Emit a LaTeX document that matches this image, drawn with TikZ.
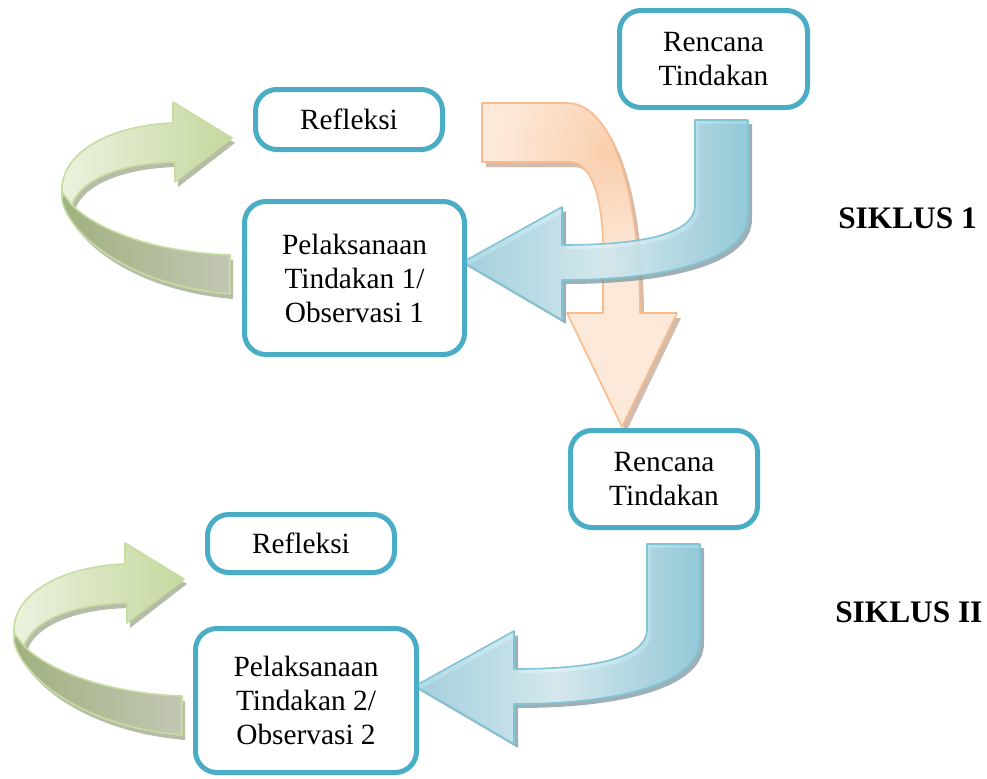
\documentclass[tikz,border=0pt]{standalone}
\usepackage{fontspec}
\setmainfont{Liberation Serif}

\definecolor{kotakbiru}{RGB}{75,172,198}
\definecolor{birutua}{RGB}{147,205,221}
\definecolor{birumuda}{RGB}{220,239,244}
\definecolor{birugaris}{RGB}{128,196,214}
\definecolor{bayangbiru}{RGB}{125,150,158}
\definecolor{oranyemuda}{RGB}{253,233,218}
\definecolor{oranyetua}{RGB}{249,206,172}
\definecolor{oranyegaris}{RGB}{249,186,140}
\definecolor{bayangoranye}{RGB}{190,160,140}
\definecolor{hijaumuda}{RGB}{236,242,223}
\definecolor{hijautua}{RGB}{197,216,160}
\definecolor{hijausisi}{RGB}{160,177,128}
\definecolor{hijauabu}{RGB}{194,199,179}
\definecolor{hijaugaris}{RGB}{200,220,160}
\definecolor{bayanghijau}{RGB}{150,160,130}

% block arrow outlines (pixel units)
\newcommand{\panahbiru}{(695,120) -- (748,120) -- (748,215) .. controls (748,262) and (660,280) .. (562,280) -- (562,320) -- (463,262) -- (562,207) -- (562,245) .. controls (650,245) and (695,232) .. (695,205) -- cycle}
\newcommand{\panahoranye}{(482,103) -- (567,103) .. controls (615,103) and (640,200) .. (640,313) -- (677,313) -- (622,427) -- (567,313) -- (603,313) -- (603,250) .. controls (603,200) and (592,162) .. (570,162) -- (482,162) -- cycle}
\newcommand{\loopatas}{(62,192) .. controls (60,150) and (115,125) .. (173,123) -- (173,102) -- (232,138) -- (175,182) -- (175,162) .. controls (120,163) and (80,180) .. (72,205) -- cycle}
\newcommand{\loopbawah}{(62,192) -- (62,200) .. controls (68,232) and (125,285) .. (230,294) -- (230,255) .. controls (150,252) and (95,228) .. (72,205) -- cycle}

\begin{document}
\begin{tikzpicture}[x=0.75pt,y=-0.75pt,
    kotak/.style={draw=kotakbiru, line width=3.75pt, rounded corners=16pt, fill=white,
        align=center, inner sep=0pt, font=\fontsize{22}{25.5}\selectfont},
    siklus/.style={font=\fontsize{23.5}{28}\selectfont\bfseries, inner sep=0pt},
    garispanah/.style={line width=1.2pt, line join=round}]

    \useasboundingbox (0,0) rectangle (987,778);

    % Draw the green loop arrows of both cycles (shadow, lower band, upper band)
    \foreach \dx/\dy in {0/0, -48/441} {
        \begin{scope}[shift={(\dx,\dy)}]
            \fill[bayanghijau, opacity=0.7, shift={(3,5)}] \loopbawah;
            \fill[bayanghijau, opacity=0.7, shift={(3,5)}] \loopatas;
            \draw[garispanah, draw=hijaugaris, left color=hijausisi, right color=hijauabu] \loopbawah;
            \draw[garispanah, draw=hijaugaris, left color=hijaumuda, right color=hijautua] \loopatas;
        \end{scope}
    }

    % Orange arrow from the first cycle down to the second
    \fill[bayangoranye, opacity=0.7, shift={(4,5)}] \panahoranye;
    \begin{scope}
        \clip \panahoranye;
        \fill[oranyemuda] (470,95) rectangle (690,435);
        \shade[inner color=oranyetua, outer color=oranyemuda] (612,150) circle (115);
    \end{scope}
    \draw[garispanah, draw=oranyegaris] \panahoranye;

    % Blue bent arrows, drawn over the orange one
    \foreach \dx/\dy in {0/0, -48/424} {
        \begin{scope}[shift={(\dx,\dy)}]
            \fill[bayangbiru, opacity=0.75, shift={(4,4)}] \panahbiru;
            \draw[garispanah, draw=birugaris, fill opacity=0.88, left color=birutua!85, right color=birutua, middle color=birumuda] \panahbiru;
        \end{scope}
    }

    % Boxes of cycle 1
    \node[kotak, minimum width=141pt, minimum height=72.75pt] (rencana1) at (713.5,59) {Rencana\\Tindakan};
    \node[kotak, minimum width=140.25pt, minimum height=45pt] (refleksi1) at (349,119.5) {Refleksi};
    \node[kotak, minimum width=165pt, minimum height=114.75pt] (pelaksanaan1) at (354.5,278) {Pelaksanaan\\Tindakan 1/\\Observasi 1};

    % Boxes of cycle 2
    \node[kotak, minimum width=140.25pt, minimum height=72.75pt] (rencana2) at (664,479) {Rencana\\Tindakan};
    \node[kotak, minimum width=140.25pt, minimum height=43.5pt] (refleksi2) at (301,543.5) {Refleksi};
    \node[kotak, minimum width=165.75pt, minimum height=108pt] (pelaksanaan2) at (306,700.5) {Pelaksanaan\\Tindakan 2/\\Observasi 2};

    % Cycle labels
    \node[siklus, anchor=base west] (siklus1) at (838,228) {SIKLUS 1};
    \node[siklus, anchor=base west] (siklus2) at (835,622) {SIKLUS II};
\end{tikzpicture}
\end{document}
